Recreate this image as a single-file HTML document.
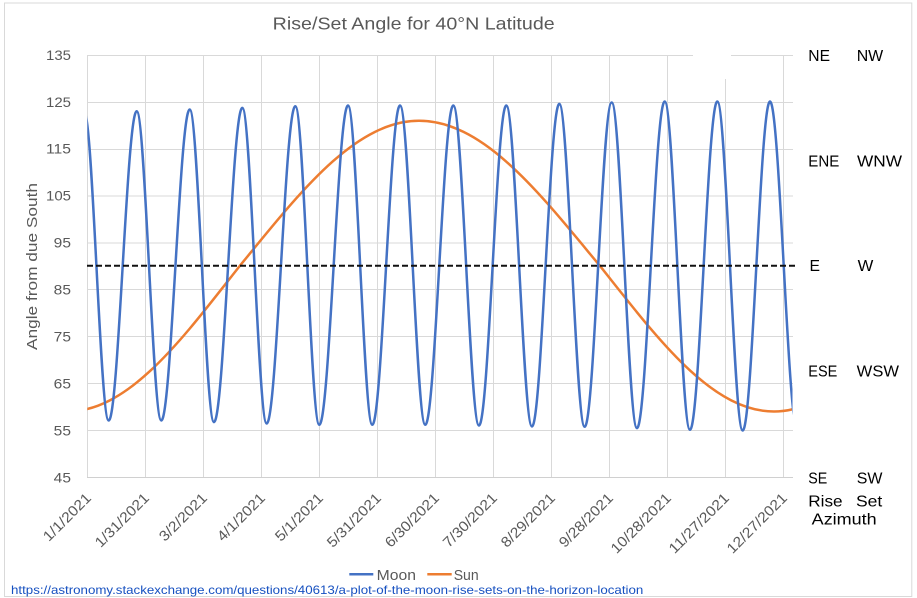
<!DOCTYPE html>
<html>
<head>
<meta charset="utf-8">
<style>
html,body{margin:0;padding:0;background:#fff;}
svg{display:block;}
text{font-family:"Liberation Sans",Arial,sans-serif;}
</style>
</head>
<body>
<svg width="917" height="598" viewBox="0 0 917 598" xmlns="http://www.w3.org/2000/svg">
<defs>
<clipPath id="plot"><rect x="87.3" y="40" width="705.2" height="440"/></clipPath>
</defs>
<rect x="0" y="0" width="917" height="598" fill="#fff"/>
<rect x="4.5" y="3" width="907.3" height="593.5" fill="none" stroke="#d9d9d9" stroke-width="1"/>

<!-- title -->
<text x="272.7" y="29.3" font-size="17.5" fill="#595959" textLength="282" lengthAdjust="spacingAndGlyphs">Rise/Set Angle for 40°N Latitude</text>

<!-- gridlines -->
<g stroke="#d9d9d9" stroke-width="1" fill="none">
<line x1="87" y1="55.5" x2="793" y2="55.5"/>
<line x1="87" y1="102.5" x2="793" y2="102.5"/>
<line x1="87" y1="149.5" x2="793" y2="149.5"/>
<line x1="87" y1="196" x2="793" y2="196"/>
<line x1="87" y1="243" x2="793" y2="243"/>
<line x1="87" y1="289.5" x2="793" y2="289.5"/>
<line x1="87" y1="336.5" x2="793" y2="336.5"/>
<line x1="87" y1="383.5" x2="793" y2="383.5"/>
<line x1="87" y1="430.5" x2="793" y2="430.5"/>
<line x1="87.5" y1="55" x2="87.5" y2="477.5"/>
<line x1="145.5" y1="55" x2="145.5" y2="477.5"/>
<line x1="203.5" y1="55" x2="203.5" y2="477.5"/>
<line x1="261.5" y1="55" x2="261.5" y2="477.5"/>
<line x1="319.5" y1="55" x2="319.5" y2="477.5"/>
<line x1="377.5" y1="55" x2="377.5" y2="477.5"/>
<line x1="435.5" y1="55" x2="435.5" y2="477.5"/>
<line x1="493.5" y1="55" x2="493.5" y2="477.5"/>
<line x1="551.5" y1="55" x2="551.5" y2="477.5"/>
<line x1="609.5" y1="55" x2="609.5" y2="477.5"/>
<line x1="667.5" y1="55" x2="667.5" y2="477.5"/>
<line x1="725.5" y1="55" x2="725.5" y2="477.5"/>
<line x1="783.5" y1="55" x2="783.5" y2="477.5"/>
</g>
<line x1="87" y1="477.5" x2="793" y2="477.5" stroke="#d0d0d0" stroke-width="1"/>
<rect x="693" y="48" width="38" height="31" fill="#fff"/>

<!-- y tick labels -->
<g font-size="13.5" fill="#595959" text-anchor="end">
<text x="71" y="59.9" textLength="25" lengthAdjust="spacingAndGlyphs">135</text>
<text x="71" y="106.8" textLength="25" lengthAdjust="spacingAndGlyphs">125</text>
<text x="71" y="153.7" textLength="25" lengthAdjust="spacingAndGlyphs">115</text>
<text x="71" y="200.7" textLength="25" lengthAdjust="spacingAndGlyphs">105</text>
<text x="71" y="247.6" textLength="17.3" lengthAdjust="spacingAndGlyphs">95</text>
<text x="71" y="294.5" textLength="17.3" lengthAdjust="spacingAndGlyphs">85</text>
<text x="71" y="341.4" textLength="17.3" lengthAdjust="spacingAndGlyphs">75</text>
<text x="71" y="388.4" textLength="17.3" lengthAdjust="spacingAndGlyphs">65</text>
<text x="71" y="435.3" textLength="17.3" lengthAdjust="spacingAndGlyphs">55</text>
<text x="71" y="482.3" textLength="17.3" lengthAdjust="spacingAndGlyphs">45</text>
</g>

<!-- axis title -->
<text transform="translate(37,350) rotate(-90)" font-size="15" fill="#595959" textLength="167" lengthAdjust="spacingAndGlyphs">Angle from due South</text>

<!-- x labels -->
<g font-size="14.5" fill="#595959" text-anchor="end">
<text transform="translate(92,499) rotate(-45)" textLength="61" lengthAdjust="spacingAndGlyphs">1/1/2021</text>
<text transform="translate(150,499) rotate(-45)" textLength="69.7" lengthAdjust="spacingAndGlyphs">1/31/2021</text>
<text transform="translate(208,499) rotate(-45)" textLength="61" lengthAdjust="spacingAndGlyphs">3/2/2021</text>
<text transform="translate(266,499) rotate(-45)" textLength="61" lengthAdjust="spacingAndGlyphs">4/1/2021</text>
<text transform="translate(324,499) rotate(-45)" textLength="61" lengthAdjust="spacingAndGlyphs">5/1/2021</text>
<text transform="translate(382,499) rotate(-45)" textLength="69.7" lengthAdjust="spacingAndGlyphs">5/31/2021</text>
<text transform="translate(440,499) rotate(-45)" textLength="69.7" lengthAdjust="spacingAndGlyphs">6/30/2021</text>
<text transform="translate(498,499) rotate(-45)" textLength="69.7" lengthAdjust="spacingAndGlyphs">7/30/2021</text>
<text transform="translate(556,499) rotate(-45)" textLength="69.7" lengthAdjust="spacingAndGlyphs">8/29/2021</text>
<text transform="translate(614,499) rotate(-45)" textLength="69.7" lengthAdjust="spacingAndGlyphs">9/28/2021</text>
<text transform="translate(672,499) rotate(-45)" textLength="78.4" lengthAdjust="spacingAndGlyphs">10/28/2021</text>
<text transform="translate(730,499) rotate(-45)" textLength="78.4" lengthAdjust="spacingAndGlyphs">11/27/2021</text>
<text transform="translate(788,499) rotate(-45)" textLength="78.4" lengthAdjust="spacingAndGlyphs">12/27/2021</text>
</g>

<!-- series -->
<g clip-path="url(#plot)" fill="none" stroke-linejoin="round">
<path stroke="#ED7D31" stroke-width="2.5" d="M67.5,411.5 C129.8,411.5 183.5,337.3 239.6,266.1 C298.1,194.9 354.1,120.8 419,120.8 C484.5,120.8 541,194.9 600.1,266.1 C656.8,337.3 711.1,411.5 774,411.5 C836.2,411.5 889.9,337.3 946,266.1"/>
<path stroke="#4472C4" stroke-width="2.5" d="M84.2,112.2 C92.8,112.2 100.1,420.5 108.7,420.5 C118.5,420.5 126.9,111.2 136.7,111.2 C145.3,111.2 152.7,420.5 161.3,420.5 C171.2,420.5 179.8,109.5 189.7,109.5 C198.2,109.5 205.5,422.1 214,422.1 C223.9,422.1 232.4,107.9 242.3,107.9 C250.8,107.9 258.2,423.5 266.7,423.5 C276.7,423.5 285.3,106.2 295.3,106.2 C303.7,106.2 310.9,424.8 319.3,424.8 C329.4,424.8 338,105.5 348,105.5 C356.5,105.5 363.8,424.8 372.3,424.8 C382,424.8 390.3,105.5 400,105.5 C408.9,105.5 416.4,424.8 425.3,424.8 C435.1,424.8 443.5,105.5 453.3,105.5 C462.3,105.5 470,425.5 479,425.5 C488.6,425.5 496.7,105.5 506.3,105.5 C515.3,105.5 523,426.5 532,426.5 C541.6,426.5 549.7,103.9 559.3,103.9 C568.2,103.9 575.8,426.8 584.7,426.8 C594.2,426.8 602.3,102.5 611.7,102.5 C620.6,102.5 628.1,428.1 637,428.1 C646.7,428.1 655,101.5 664.7,101.5 C673.6,101.5 681.1,429.8 690,429.8 C699.6,429.8 707.7,101.5 717.3,101.5 C726.2,101.5 733.8,430.5 742.7,430.5 C752.3,430.5 760.4,101.5 770,101.5 C779.6,101.5 787.9,431 797.5,431"/>
</g>

<!-- dashed 90 line -->
<line x1="87" y1="265.8" x2="795" y2="265.8" stroke="#111" stroke-width="2" stroke-dasharray="6 3"/>

<!-- right labels -->
<g font-size="16" fill="#000">
<text x="808.3" y="61" textLength="21.7" lengthAdjust="spacingAndGlyphs">NE</text>
<text x="856.7" y="61" textLength="26.5" lengthAdjust="spacingAndGlyphs">NW</text>
<text x="808.3" y="166.7" textLength="31" lengthAdjust="spacingAndGlyphs">ENE</text>
<text x="857" y="166.7" textLength="45" lengthAdjust="spacingAndGlyphs">WNW</text>
<text x="809.5" y="271" textLength="10.5" lengthAdjust="spacingAndGlyphs">E</text>
<text x="857.7" y="271" textLength="15.7" lengthAdjust="spacingAndGlyphs">W</text>
<text x="808.3" y="376.7" textLength="29" lengthAdjust="spacingAndGlyphs">ESE</text>
<text x="856.7" y="376.7" textLength="42.3" lengthAdjust="spacingAndGlyphs">WSW</text>
<text x="808.3" y="483.3" textLength="19" lengthAdjust="spacingAndGlyphs">SE</text>
<text x="856.7" y="483.3" textLength="25.7" lengthAdjust="spacingAndGlyphs">SW</text>
<text x="808.3" y="506.7" textLength="34.3" lengthAdjust="spacingAndGlyphs">Rise</text>
<text x="856" y="506.7" textLength="26.3" lengthAdjust="spacingAndGlyphs">Set</text>
<text x="811.7" y="524.3" textLength="65" lengthAdjust="spacingAndGlyphs">Azimuth</text>
</g>

<!-- legend -->
<line x1="349.3" y1="574.3" x2="373.3" y2="574.3" stroke="#4472C4" stroke-width="2.5"/>
<text x="376.7" y="580" font-size="15" fill="#595959" textLength="39.3" lengthAdjust="spacingAndGlyphs">Moon</text>
<line x1="427.3" y1="574.3" x2="451.7" y2="574.3" stroke="#ED7D31" stroke-width="2.5"/>
<text x="453.7" y="580" font-size="15" fill="#595959" textLength="25" lengthAdjust="spacingAndGlyphs">Sun</text>

<!-- url -->
<text x="11" y="594" font-size="12" fill="#1650C0" textLength="632.3" lengthAdjust="spacingAndGlyphs">https://astronomy.stackexchange.com/questions/40613/a-plot-of-the-moon-rise-sets-on-the-horizon-location</text>
</svg>
</body>
</html>
